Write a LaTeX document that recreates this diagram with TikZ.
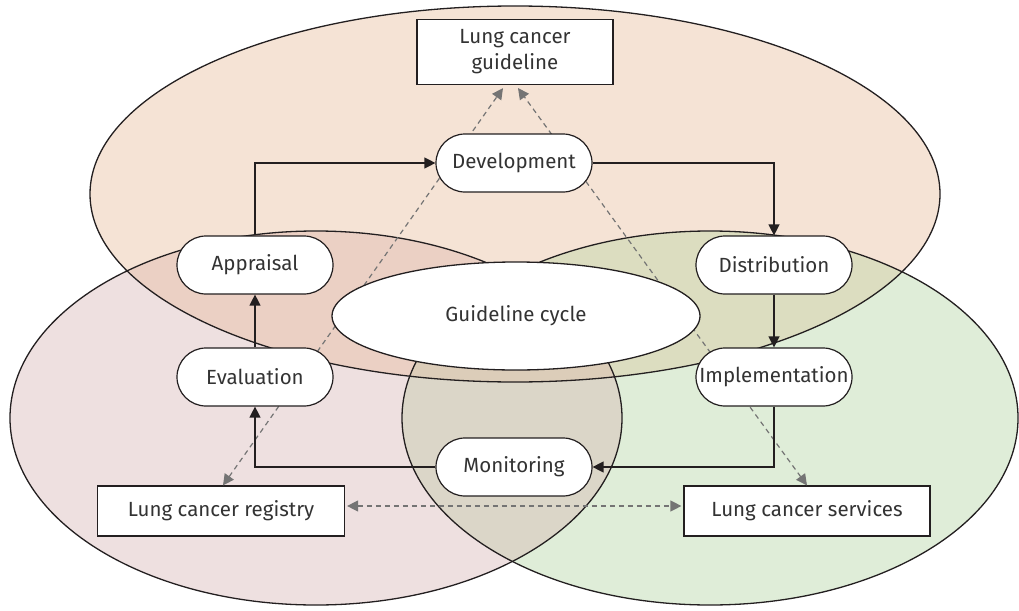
\documentclass[tikz,border=0pt]{standalone}
\usepackage{fontspec}
\setmainfont{Fira Sans}
\usetikzlibrary{arrows.meta,shapes.geometric}
\definecolor{ink}{HTML}{231F20}
\definecolor{txt}{HTML}{333333}
\definecolor{dashc}{HTML}{747474}
\definecolor{topc}{HTML}{F5E3D5}
\definecolor{leftc}{HTML}{EEE0E0}
\definecolor{rightc}{HTML}{DFEDD8}
\definecolor{tlc}{HTML}{EBD0C4}
\definecolor{trc}{HTML}{DCDDC0}
\definecolor{lrc}{HTML}{DBD6C8}
\definecolor{tlrc}{HTML}{DCCDB9}
\begin{document}
\begin{tikzpicture}[x=1pt,y=-1pt,
  every node/.style={font=\fontsize{20.5}{26}\selectfont, text=txt},
  pill/.style={draw=ink, line width=1.2pt, fill=white, rounded corners=29pt,
    minimum width=156pt, minimum height=58pt, inner sep=0pt},
  box/.style={draw=ink, line width=1.2pt, fill=white, inner sep=0pt, align=center},
  flow/.style={draw=ink, line width=1.3pt, -{Triangle[length=11pt,width=11pt]}},
  link/.style={draw=dashc, line width=1.2pt, dash pattern=on 5pt off 4pt,
    {Triangle[length=11pt,width=11pt,fill=dashc]}-{Triangle[length=11pt,width=11pt,fill=dashc]}},
  rim/.style={draw=ink, line width=1.3pt}
]
\useasboundingbox (0,0) rectangle (1019,610);
% base fills
\fill[topc] (515,194) ellipse [x radius=425pt, y radius=188pt];
\fill[leftc] (316,418) ellipse [x radius=306pt, y radius=187pt];
\fill[rightc] (710,418) ellipse [x radius=308pt, y radius=187pt];
% pairwise overlaps
\begin{scope}
  \clip (515,194) ellipse [x radius=425pt, y radius=188pt];
  \fill[tlc] (316,418) ellipse [x radius=306pt, y radius=187pt];
  \fill[trc] (710,418) ellipse [x radius=308pt, y radius=187pt];
\end{scope}
\begin{scope}
  \clip (316,418) ellipse [x radius=306pt, y radius=187pt];
  \fill[lrc] (710,418) ellipse [x radius=308pt, y radius=187pt];
\end{scope}
\begin{scope}
  \clip (316,418) ellipse [x radius=306pt, y radius=187pt];
  \clip (710,418) ellipse [x radius=308pt, y radius=187pt];
  \fill[tlrc] (515,194) ellipse [x radius=425pt, y radius=188pt];
\end{scope}
% outlines
\draw[rim] (515,194) ellipse [x radius=425pt, y radius=188pt];
\draw[rim] (316,418) ellipse [x radius=306pt, y radius=187pt];
\draw[rim] (710,418) ellipse [x radius=308pt, y radius=187pt];

% boxes
\node[box, minimum width=196pt, minimum height=65pt] (guide) at (515,52) {Lung cancer\\guideline};
\node[box, minimum width=247pt, minimum height=50pt] (reg) at (221,511) {Lung cancer registry};
\node[box, minimum width=246pt, minimum height=50pt] (serv) at (807,511) {Lung cancer services};

% dashed links (drawn below the pills)
\draw[link] ([xshift=2pt]reg.north) -- ([xshift=-12pt,yshift=-3pt]guide.south);
\draw[link] (serv.north) -- ([xshift=3pt,yshift=-3pt]guide.south);
\draw[link] ([xshift=2pt,yshift=5pt]reg.east) -- ([xshift=-2pt,yshift=5pt]serv.west);

% central ellipse
\node[ellipse, draw=ink, line width=1.3pt, fill=white, minimum width=368pt, minimum height=108pt, inner sep=0pt] (gc) at (516,316) {Guideline cycle};

% cycle stages
\node[pill] (dev) at (514,163) {Development};
\node[pill] (app) at (255,265) {Appraisal};
\node[pill] (eva) at (255,377) {Evaluation};
\node[pill] (dis) at (774,265) {Distribution};
\node[pill] (imp) at (774,377) {Implementation};
\node[pill] (mon) at (514,467) {Monitoring};

% cycle arrows
\draw[flow] (app.north) |- (dev.west);
\draw[flow] (dev.east) -| (dis.north);
\draw[flow] (dis.south) -- (imp.north);
\draw[flow] (imp.south) |- (mon.east);
\draw[flow] (mon.west) -| (eva.south);
\draw[flow] (eva.north) -- (app.south);
\end{tikzpicture}
\end{document}
